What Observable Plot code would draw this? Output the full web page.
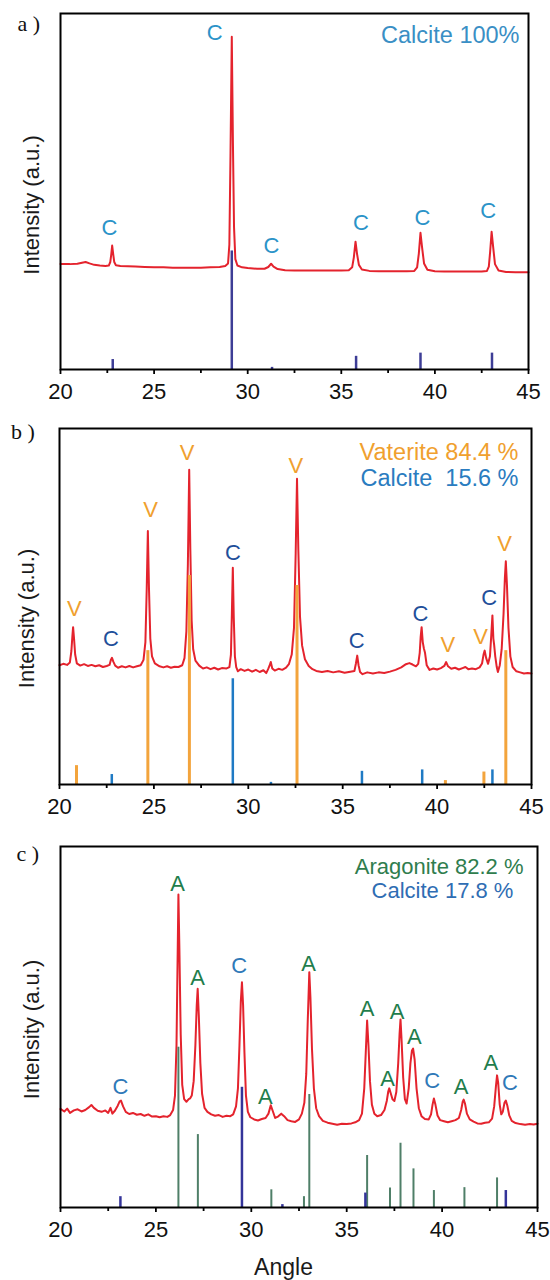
<!DOCTYPE html>
<html>
<head>
<meta charset="utf-8">
<script src="https://cdn.jsdelivr.net/npm/d3@7"></script>
<script src="https://cdn.jsdelivr.net/npm/@observablehq/plot@0.6"></script>
<style>
  html, body { margin: 0; padding: 0; background: #fff; }
  #figure { position: relative; width: 550px; height: 1280px; overflow: hidden; background: #fff; }
  #figure > svg { position: absolute; left: 0; overflow: visible; background: transparent; }
</style>
</head>
<body>
<div id="figure"></div>
<script>
// Shared axis ticks (2θ, degrees)
const majorTicks = [20, 25, 30, 35, 40, 45];
const minorTicks = [22.5, 27.5, 32.5, 37.5, 42.5];

// ---- a) calcite sample: measured pattern [angle, intensity] ----
const scanA = [
  [20.0, 29.6], [20.5, 29.6], [20.9, 29.7], [21.15, 30.0], [21.34, 30.2], [21.55, 29.8], [21.8, 29.4],
  [22.1, 29.2], [22.4, 29.1], [22.58, 29.2], [22.66, 30.2], [22.71, 32.3], [22.76, 34.8], [22.81, 32.6],
  [22.87, 30.2], [22.96, 29.3], [23.2, 29.1], [23.6, 29.0], [24.0, 28.9], [24.5, 28.8], [25.0, 28.7],
  [25.5, 28.7], [26.0, 28.6], [26.5, 28.6], [27.0, 28.6], [27.5, 28.6], [28.0, 28.7], [28.5, 28.8],
  [28.8, 29.1], [28.95, 29.8], [29.02, 35], [29.08, 60], [29.15, 93.5], [29.21, 64], [29.27, 40],
  [29.34, 31], [29.45, 29.2], [29.7, 28.7], [30.0, 28.5], [30.5, 28.3], [30.9, 28.3], [31.1, 28.8],
  [31.25, 29.7], [31.38, 28.9], [31.6, 28.2], [32.0, 27.9], [32.5, 27.8], [33.0, 27.8], [33.5, 27.8],
  [34.0, 27.8], [34.5, 27.8], [35.0, 27.8], [35.4, 27.9], [35.58, 28.7], [35.67, 31.5], [35.76, 35.9],
  [35.84, 32.5], [35.94, 29.4], [36.1, 28.1], [36.5, 27.7], [37.0, 27.6], [37.5, 27.6], [38.0, 27.6],
  [38.5, 27.6], [38.9, 27.7], [39.05, 28.7], [39.14, 32.5], [39.23, 38.4], [39.31, 34.5], [39.42, 29.8],
  [39.6, 28.0], [40.0, 27.6], [40.5, 27.5], [41.0, 27.5], [41.5, 27.5], [42.0, 27.5], [42.5, 27.5],
  [42.78, 27.7], [42.88, 28.9], [42.95, 33.0], [43.03, 38.7], [43.11, 34.5], [43.21, 29.6], [43.4, 27.8],
  [43.8, 27.4], [44.3, 27.3], [45.0, 27.3]
];
const calciteRefA = [[22.79, 2.8], [29.15, 33.3], [31.3, 0.6], [35.79, 3.7], [39.23, 4.6], [43.05, 4.6]];
const peakLabelsA = [
  ["C", 22.61, 39.9], ["C", 28.23, 94.4], ["C", 31.27, 34.8],
  ["C", 36.05, 41.3], ["C", 39.33, 42.7], ["C", 42.85, 44.4]
];

// ---- b) vaterite + calcite sample ----
const scanB = [
  [20.0, 33.5], [20.2, 33.9], [20.4, 33.6], [20.55, 34.3], [20.63, 37.5], [20.68, 41.5], [20.72, 44.2],
  [20.77, 41.0], [20.83, 36.5], [20.92, 34.0], [21.1, 33.4], [21.3, 33.8], [21.5, 33.3], [21.7, 33.6],
  [21.9, 33.2], [22.1, 33.5], [22.3, 33.0], [22.5, 33.3], [22.65, 33.6], [22.72, 35.0], [22.78, 35.6],
  [22.85, 34.5], [22.95, 33.4], [23.1, 32.8], [23.3, 33.2], [23.5, 32.9], [23.7, 33.3], [23.9, 32.9],
  [24.1, 33.2], [24.3, 33.5], [24.45, 35.0], [24.55, 40], [24.62, 55], [24.68, 71.2], [24.74, 55],
  [24.81, 41], [24.9, 36], [25.05, 34.0], [25.3, 33.2], [25.5, 32.9], [25.7, 33.2], [25.9, 32.8],
  [26.1, 33.1], [26.3, 33.0], [26.5, 33.5], [26.62, 35.5], [26.72, 43], [26.8, 62], [26.87, 88.4],
  [26.93, 66], [27.0, 46], [27.08, 38], [27.2, 34.8], [27.4, 33.4], [27.6, 32.6], [27.8, 32.9],
  [28.0, 32.4], [28.2, 32.8], [28.4, 32.3], [28.6, 32.7], [28.85, 32.6], [29.0, 33.0], [29.08, 36.5],
  [29.13, 48], [29.18, 60.9], [29.23, 47], [29.29, 36], [29.36, 33.0], [29.45, 31.8], [29.6, 32.4],
  [29.8, 31.9], [30.0, 32.3], [30.2, 31.7], [30.4, 32.2], [30.6, 31.6], [30.8, 32.1], [30.95, 31.3],
  [31.05, 32.4], [31.12, 33.3], [31.19, 34.4], [31.27, 32.6], [31.4, 32.0], [31.6, 32.5], [31.8, 32.2],
  [32.0, 32.8], [32.15, 33.8], [32.3, 36.5], [32.42, 44], [32.51, 65], [32.58, 85.9], [32.65, 66],
  [32.74, 47], [32.85, 39], [33.0, 35.2], [33.2, 33.3], [33.4, 32.4], [33.6, 31.9], [33.9, 31.6],
  [34.2, 31.9], [34.5, 31.5], [34.8, 31.8], [35.1, 31.4], [35.4, 31.7], [35.62, 31.9], [35.7, 34.0],
  [35.77, 36.2], [35.84, 33.5], [35.92, 31.6], [36.05, 31.0], [36.3, 31.5], [36.6, 31.2], [36.9, 31.5],
  [37.2, 31.3], [37.5, 31.7], [37.8, 32.2], [38.1, 32.9], [38.35, 33.8], [38.53, 34.1], [38.7, 33.7],
  [38.88, 33.2], [39.0, 33.9], [39.08, 37], [39.13, 41.5], [39.18, 44.2], [39.24, 40], [39.3, 38.2],
  [39.36, 37.0], [39.45, 33.5], [39.6, 32.2], [39.8, 32.6], [40.0, 32.3], [40.2, 32.7], [40.38, 33.3],
  [40.48, 34.4], [40.58, 33.2], [40.75, 32.5], [40.95, 32.8], [41.15, 32.3], [41.35, 32.7], [41.5, 33.0],
  [41.65, 32.4], [41.85, 32.6], [42.05, 32.4], [42.25, 32.9], [42.38, 34.0], [42.46, 36.5], [42.52, 37.6],
  [42.6, 35.5], [42.7, 33.9], [42.8, 36], [42.87, 42], [42.93, 47.5], [42.98, 41], [43.02, 39.3],
  [43.08, 36], [43.16, 33], [43.22, 31.6], [43.32, 33.5], [43.42, 38], [43.52, 48], [43.59, 58],
  [43.64, 62.7], [43.7, 56], [43.78, 44], [43.88, 36], [44.0, 33.0], [44.2, 31.8], [44.4, 31.5],
  [44.6, 31.2], [44.8, 31.3], [45.0, 31.2]
];
const vateriteRefB = [[20.9, 5.3], [24.68, 37.6], [26.88, 58.7], [32.58, 55.9], [40.44, 1.1], [42.48, 3.5], [43.64, 37.6]];
const calciteRefB = [[22.77, 2.8], [29.18, 29.7], [31.2, 0.6], [36.02, 3.7], [39.21, 4.1], [42.93, 4.1]];
const peakLabelsB = [
  ["V", 20.78, 49.4], ["C", 22.73, 41.0], ["V", 24.83, 77.0], ["V", 26.76, 93.1],
  ["C", 29.18, 65.0], ["V", 32.52, 89.6], ["C", 35.74, 40.4], ["C", 39.12, 47.9],
  ["V", 40.57, 39.3], ["V", 42.3, 41.4], ["C", 42.76, 52.4], ["V", 43.58, 67.6]
];

// ---- c) aragonite + calcite sample ----
const scanC = [
  [20.0, 27.3], [20.2, 26.6], [20.35, 27.4], [20.5, 26.2], [20.7, 26.9], [20.9, 27.2], [21.1, 26.6],
  [21.3, 27.0], [21.5, 27.8], [21.62, 28.4], [21.75, 27.6], [21.95, 26.8], [22.15, 26.5], [22.35, 26.9],
  [22.5, 26.2], [22.62, 27.6], [22.72, 26.0], [22.85, 26.8], [23.0, 28.2], [23.1, 29.4], [23.17, 29.6],
  [23.28, 28.0], [23.42, 26.5], [23.6, 25.9], [23.8, 26.2], [24.0, 25.7], [24.2, 25.9], [24.4, 25.4],
  [24.6, 25.8], [24.8, 25.2], [25.0, 25.3], [25.2, 25.0], [25.4, 25.3], [25.6, 25.1], [25.75, 25.6],
  [25.9, 27.0], [26.0, 31], [26.08, 45], [26.14, 70], [26.18, 86.7], [26.23, 72], [26.3, 48],
  [26.38, 34], [26.48, 30.0], [26.6, 29.3], [26.72, 30.0], [26.79, 30.2], [26.88, 31.0], [26.98, 35],
  [27.07, 45], [27.14, 56], [27.19, 60.6], [27.25, 53], [27.33, 40], [27.42, 31.5], [27.55, 27.6],
  [27.7, 26.5], [27.9, 25.8], [28.1, 25.4], [28.3, 25.6], [28.5, 25.1], [28.7, 25.4], [28.9, 25.3],
  [29.05, 25.8], [29.2, 28], [29.3, 33], [29.38, 45], [29.45, 57], [29.51, 62.4], [29.57, 56],
  [29.64, 43], [29.72, 31], [29.82, 26.5], [29.95, 25.0], [30.15, 24.4], [30.35, 24.1], [30.55, 24.5],
  [30.75, 24.8], [30.9, 26.0], [31.02, 28.3], [31.12, 26.8], [31.25, 24.8], [31.4, 25.2], [31.57, 26.0],
  [31.72, 25.3], [31.9, 24.2], [32.1, 23.9], [32.3, 23.7], [32.5, 24.4], [32.65, 26.0], [32.78, 29],
  [32.88, 37], [32.96, 52], [33.04, 65.2], [33.1, 58], [33.18, 44], [33.28, 33], [33.4, 27.5],
  [33.55, 25.3], [33.75, 24.0], [34.0, 23.5], [34.25, 23.2], [34.5, 22.9], [34.75, 23.2], [35.0, 23.1],
  [35.25, 23.3], [35.45, 23.6], [35.65, 24.2], [35.8, 26], [35.92, 33], [36.0, 43], [36.07, 51.8],
  [36.14, 45], [36.22, 35], [36.32, 28.5], [36.45, 26.0], [36.6, 25.3], [36.8, 25.6], [36.98, 27.0],
  [37.1, 29.5], [37.18, 32.2], [37.23, 33.0], [37.3, 31.8], [37.4, 30.0], [37.5, 29.5], [37.6, 32],
  [37.7, 40], [37.77, 48], [37.82, 52.1], [37.88, 46], [37.96, 36], [38.05, 30], [38.14, 28.8],
  [38.25, 33], [38.34, 40], [38.42, 43.5], [38.48, 44.0], [38.56, 41], [38.66, 33], [38.78, 27.5],
  [38.92, 25.3], [39.1, 24.5], [39.3, 24.4], [39.42, 25.8], [39.5, 28.5], [39.57, 30.2], [39.65, 28.5],
  [39.76, 25.5], [39.9, 24.2], [40.1, 23.9], [40.3, 23.6], [40.5, 23.9], [40.7, 24.2], [40.88, 24.8],
  [41.0, 27], [41.08, 29.3], [41.13, 29.9], [41.2, 28.8], [41.3, 26.0], [41.45, 24.4], [41.65, 23.8],
  [41.85, 23.3], [42.05, 23.2], [42.25, 23.5], [42.45, 23.6], [42.62, 24.6], [42.73, 28], [42.82, 33.5],
  [42.88, 36.6], [42.94, 34.5], [43.02, 28.5], [43.1, 25.8], [43.18, 26.5], [43.27, 29.0], [43.34, 29.6],
  [43.42, 28.2], [43.52, 25.5], [43.65, 24.0], [43.85, 23.4], [44.1, 23.1], [44.35, 22.9], [44.6, 23.1],
  [44.8, 23.0], [45.0, 23.2]
];
const aragoniteRefC = [
  [26.18, 44.4], [27.2, 20.2], [31.05, 4.9], [32.76, 3.0], [33.04, 31.3], [36.07, 14.4],
  [37.27, 5.4], [37.82, 17.8], [38.5, 10.7], [39.57, 4.7], [41.17, 5.5], [42.88, 8.2]
];
const calciteRefC = [[23.14, 3.0], [29.51, 33.3], [31.63, 0.8], [35.98, 4.0], [43.34, 4.7]];
const peakLabelsC = [
  ["C", 23.14, 33.3], ["A", 26.14, 89.5], ["A", 27.19, 63.6], ["C", 29.36, 66.8],
  ["A", 30.74, 30.6], ["A", 33.0, 67.5], ["A", 36.07, 55.0], ["A", 37.14, 35.7],
  ["A", 37.64, 54.1], ["A", 38.55, 47.2], ["C", 39.48, 35.0], ["A", 41.0, 33.5],
  ["A", 42.55, 40.0], ["C", 43.56, 34.4]
];

const sans = "Liberation Sans, Arial, Helvetica, sans-serif";
const serif = "Liberation Serif, Times New Roman, serif";
const scanColor = "#e4232d";

function xrdPanel(p) {
  const marks = [];
  // measured scan first, reference sticks drawn over it
  marks.push(Plot.line(p.scan, {
    x: d => d[0], y: d => d[1], stroke: scanColor, strokeWidth: 2, strokeLinejoin: "round"
  }));
  for (const ref of p.refs) {
    marks.push(Plot.ruleX(ref.data, {
      x: d => d[0], y1: 0, y2: d => d[1], stroke: ref.color, strokeWidth: ref.width
    }));
  }
  marks.push(Plot.text(p.peaks, {
    x: d => d[1], y: d => d[2], text: d => d[0], fill: d => p.peakColors[d[0]],
    fontSize: 22, fontFamily: sans, lineAnchor: "middle"
  }));
  for (const lg of p.legend) {
    marks.push(Plot.text([lg.text], {
      text: d => d, frameAnchor: "top-right", textAnchor: lg.anchor, lineAnchor: "middle",
      dx: lg.dx, dy: lg.dy, fill: lg.color, fontSize: p.legendSize, fontFamily: sans
    }));
  }
  marks.push(Plot.frame({stroke: "#000", strokeWidth: 2}));
  marks.push(Plot.axisX(majorTicks, {
    tickSize: 5, tickPadding: 9, strokeWidth: 1.8, stroke: "#000", fill: "#111",
    fontSize: 22, fontFamily: sans, label: null
  }));
  marks.push(Plot.axisX(minorTicks, {
    tickSize: 4, strokeWidth: 1.8, stroke: "#000", fill: "none", label: null
  }));
  marks.push(Plot.text(["Intensity (a.u.)"], {
    text: d => d, frameAnchor: "left", rotate: -90, textAnchor: "middle", lineAnchor: "middle",
    dx: p.yLabel.dx, dy: p.yLabel.dy, fontSize: 22, fontFamily: sans, fill: "#1a1a1a"
  }));
  marks.push(Plot.text([p.letter.text], {
    text: d => d, frameAnchor: "top-left", textAnchor: "start", lineAnchor: "middle",
    dx: p.letter.dx, dy: p.letter.dy, fontSize: 22, fontFamily: serif, fill: "#111"
  }));
  if (p.xLabel) {
    marks.push(Plot.text([p.xLabel.text], {
      text: d => d, frameAnchor: "bottom", textAnchor: "middle", lineAnchor: "middle",
      dx: p.xLabel.dx, dy: p.xLabel.dy, fontSize: 23, fontFamily: sans, fill: "#1a1a1a"
    }));
  }
  const svg = Plot.plot({
    width: 550,
    height: p.height,
    marginTop: p.marginTop,
    marginBottom: p.marginBottom,
    marginLeft: p.marginLeft,
    marginRight: p.marginRight,
    x: {domain: [20, 45]},
    y: {domain: [0, 100], axis: null},
    color: {type: "identity"},
    style: {background: "transparent", fontFamily: sans, color: "#111", overflow: "visible"},
    marks
  });
  svg.style.top = p.top + "px";
  return svg;
}

const figure = document.getElementById("figure");

figure.appendChild(xrdPanel({
  top: 0, height: 400, marginTop: 13, marginBottom: 31, marginLeft: 60, marginRight: 22,
  scan: scanA,
  refs: [{data: calciteRefA, color: "#3d3d96", width: 2.5}],
  peaks: peakLabelsA,
  peakColors: {C: "#2b93c8"},
  legendSize: 23.5,
  legend: [{text: "Calcite 100%", color: "#3a8fc5", anchor: "end", dx: -9, dy: 22}],
  yLabel: {dx: -29, dy: 13.5},
  letter: {text: "a )", dx: -43, dy: 10}
}));

figure.appendChild(xrdPanel({
  top: 400, height: 420, marginTop: 28, marginBottom: 36, marginLeft: 59, marginRight: 19,
  scan: scanB,
  refs: [
    {data: vateriteRefB, color: "#f3a43c", width: 3},
    {data: calciteRefB, color: "#1f7ac4", width: 2.5}
  ],
  peaks: peakLabelsB,
  peakColors: {V: "#f0a02e", C: "#1f4f9a"},
  legendSize: 23.5,
  legend: [
    {text: "Vaterite 84.4 %", color: "#f0a02e", anchor: "end", dx: -13, dy: 23.7},
    {text: "Calcite\u00a0 15.6 %", color: "#2a7cc0", anchor: "end", dx: -13, dy: 50.3}
  ],
  yLabel: {dx: -33, dy: 12},
  letter: {text: "b )", dx: -48.5, dy: 3.7}
}));

figure.appendChild(xrdPanel({
  top: 820, height: 460, marginTop: 26, marginBottom: 73, marginLeft: 60, marginRight: 13,
  scan: scanC,
  refs: [
    {data: aragoniteRefC, color: "#4f7f68", width: 2},
    {data: calciteRefC, color: "#34349a", width: 2.5}
  ],
  peaks: peakLabelsC,
  peakColors: {A: "#1f7d4c", C: "#2f79b8"},
  legendSize: 22,
  legend: [
    {text: "Aragonite 82.2 %", color: "#2f7d4e", anchor: "middle", dx: -98.4, dy: 20.7},
    {text: "Calcite 17.8 %", color: "#2f6db3", anchor: "middle", dx: -95, dy: 44}
  ],
  yLabel: {dx: -28.5, dy: 2.5},
  letter: {text: "c )", dx: -44, dy: 7.3},
  xLabel: {text: "Angle", dx: -15.5, dy: 60}
}));
</script>
</body>
</html>
